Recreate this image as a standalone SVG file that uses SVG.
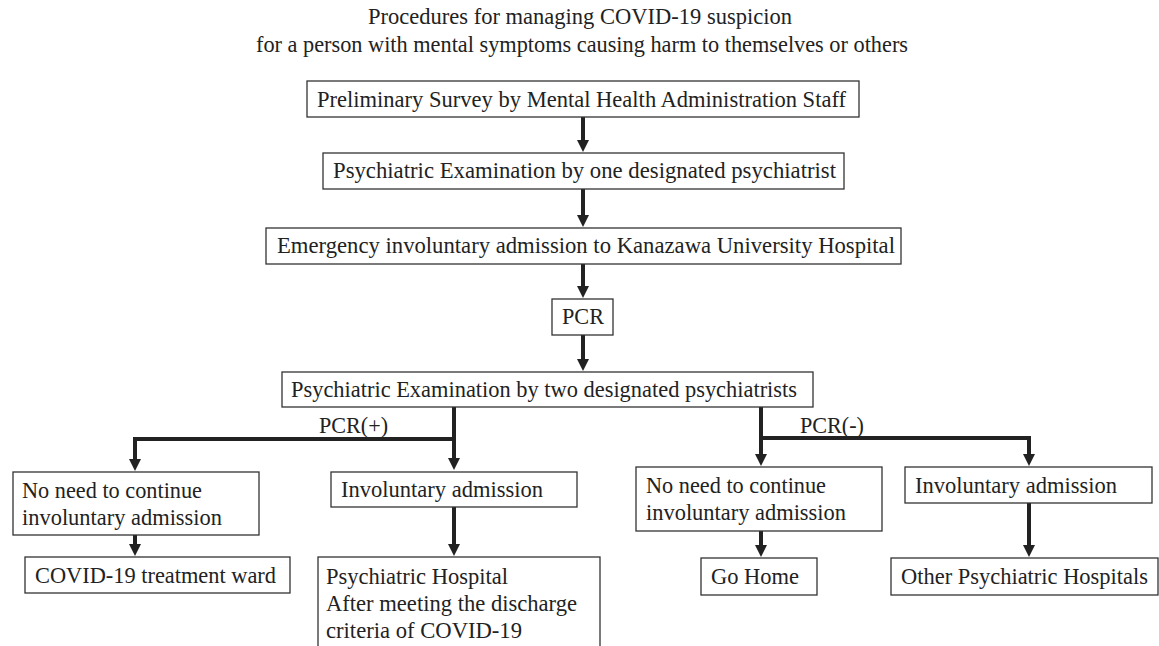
<svg xmlns="http://www.w3.org/2000/svg" width="1159" height="646" viewBox="0 0 1159 646">
<style>
.box{fill:#fff;stroke:#333;stroke-width:1.3}
text{font-family:'Liberation Serif','Tinos','Times New Roman',Times,'DejaVu Serif','Noto Serif',serif;font-size:22.5px;fill:#222}
.c{fill:none;stroke:#222;stroke-width:4}
</style>
<defs>
<marker id="ah" markerUnits="userSpaceOnUse" viewBox="0 0 12 12" markerWidth="12" markerHeight="12" refX="1" refY="6" orient="auto">
<path d="M0,0 L12,6 L0,12 z" fill="#222"/>
</marker>
</defs>
<rect width="1159" height="646" fill="#fff"/>
<g id="title" font-family="'Liberation Serif', serif">
<text x="368" y="24" textLength="424" lengthAdjust="spacingAndGlyphs">Procedures for managing COVID-19 suspicion</text>
<text x="256" y="52" textLength="652" lengthAdjust="spacingAndGlyphs">for a person with mental symptoms causing harm to themselves or others</text>
</g>
<g id="connectors">
<path class="c" d="M583,117 V141" marker-end="url(#ah)"/>
<path class="c" d="M583,189 V216" marker-end="url(#ah)"/>
<path class="c" d="M583,264 V287" marker-end="url(#ah)"/>
<path class="c" d="M583,335 V360" marker-end="url(#ah)"/>
<path class="c" d="M454,407 V459" marker-end="url(#ah)"/>
<path class="c" d="M456,439 H135 V460" marker-end="url(#ah)"/>
<path class="c" d="M761,407 V455" marker-end="url(#ah)"/>
<path class="c" d="M759,438 H1029 V455" marker-end="url(#ah)"/>
<path class="c" d="M135,535 V545" marker-end="url(#ah)"/>
<path class="c" d="M454,507 V545" marker-end="url(#ah)"/>
<path class="c" d="M761,531 V546" marker-end="url(#ah)"/>
<path class="c" d="M1029,503 V546" marker-end="url(#ah)"/>
<text x="319" y="433" textLength="69" lengthAdjust="spacingAndGlyphs">PCR(+)</text>
<text x="800" y="433" textLength="64" lengthAdjust="spacingAndGlyphs">PCR(-)</text>
</g>
<g id="n1">
<rect class="box" x="307" y="81" width="552" height="36"/>
<text x="317" y="107" textLength="529" lengthAdjust="spacingAndGlyphs">Preliminary Survey by Mental Health Administration Staff</text>
</g>
<g id="n2">
<rect class="box" x="323" y="153" width="521" height="36"/>
<text x="333" y="178" textLength="503" lengthAdjust="spacingAndGlyphs">Psychiatric Examination by one designated psychiatrist</text>
</g>
<g id="n3">
<rect class="box" x="266" y="228" width="635" height="36"/>
<text x="277" y="253" textLength="618" lengthAdjust="spacingAndGlyphs">Emergency involuntary admission to Kanazawa University Hospital</text>
</g>
<g id="n4">
<rect class="box" x="552" y="299" width="61" height="36"/>
<text x="562" y="324" textLength="42" lengthAdjust="spacingAndGlyphs">PCR</text>
</g>
<g id="n5">
<rect class="box" x="282" y="372" width="531" height="35"/>
<text x="291" y="397" textLength="506" lengthAdjust="spacingAndGlyphs">Psychiatric Examination by two designated psychiatrists</text>
</g>
<g id="n6">
<rect class="box" x="13" y="472" width="246" height="63"/>
<text x="22" y="498" textLength="180" lengthAdjust="spacingAndGlyphs">No need to continue</text>
<text x="22" y="525" textLength="200" lengthAdjust="spacingAndGlyphs">involuntary admission</text>
</g>
<g id="n7">
<rect class="box" x="331" y="472" width="246" height="35"/>
<text x="341" y="497" textLength="202" lengthAdjust="spacingAndGlyphs">Involuntary admission</text>
</g>
<g id="n8">
<rect class="box" x="25" y="557" width="265" height="36"/>
<text x="35" y="583" textLength="241" lengthAdjust="spacingAndGlyphs">COVID-19 treatment ward</text>
</g>
<g id="n9">
<rect class="box" x="318" y="557" width="282" height="110"/>
<text x="326" y="584" textLength="182" lengthAdjust="spacingAndGlyphs">Psychiatric Hospital</text>
<text x="326" y="611" textLength="251" lengthAdjust="spacingAndGlyphs">After meeting the discharge</text>
<text x="326" y="638" textLength="196" lengthAdjust="spacingAndGlyphs">criteria of COVID-19</text>
</g>
<g id="n10">
<rect class="box" x="636" y="467" width="246" height="64"/>
<text x="646" y="493" textLength="180" lengthAdjust="spacingAndGlyphs">No need to continue</text>
<text x="646" y="520" textLength="200" lengthAdjust="spacingAndGlyphs">involuntary admission</text>
</g>
<g id="n11">
<rect class="box" x="905" y="467" width="247" height="36"/>
<text x="915" y="493" textLength="202" lengthAdjust="spacingAndGlyphs">Involuntary admission</text>
</g>
<g id="n12">
<rect class="box" x="701" y="558" width="116" height="37"/>
<text x="711" y="584" textLength="88" lengthAdjust="spacingAndGlyphs">Go Home</text>
</g>
<g id="n13">
<rect class="box" x="891" y="558" width="267" height="37"/>
<text x="901" y="584" textLength="247" lengthAdjust="spacingAndGlyphs">Other Psychiatric Hospitals</text>
</g>
</svg>
